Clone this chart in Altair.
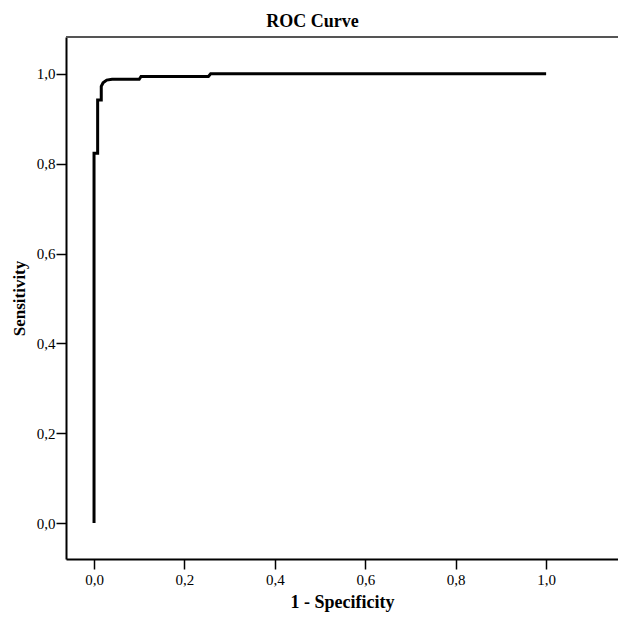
import altair as alt
import pandas as pd

fpr = [0.0, 0.0, 0.008, 0.008, 0.016, 0.016, 0.020, 0.028, 0.040, 0.100, 0.104, 0.253, 0.258, 1.0]
tpr = [0.0, 0.823, 0.823, 0.942, 0.942, 0.972, 0.980, 0.986, 0.988, 0.988, 0.994, 0.994, 1.0, 1.0]
ticks = [0.0, 0.2, 0.4, 0.6, 0.8, 1.0]

df = pd.DataFrame({"fpr": fpr, "tpr": tpr, "order": list(range(len(fpr)))})

W, H = 552, 522
FONT = "Liberation Serif"
lab = "replace(format(datum.value, '.1f'), '.', ',')"

x = alt.X("fpr:Q", scale=alt.Scale(domain=[-0.062, 1.159], nice=False, zero=False),
          axis=alt.Axis(values=ticks, labelExpr=lab, title="1 - Specificity", grid=False,
                        titleFontWeight="bold", titleFontSize=18, titlePadding=6,
                        labelPadding=3, tickSize=10))
y = alt.Y("tpr:Q", scale=alt.Scale(domain=[-0.080, 1.082], nice=False, zero=False),
          axis=alt.Axis(values=ticks, labelExpr=lab, title="Sensitivity", grid=False,
                        titleFontWeight="bold", titleFontSize=17, titlePadding=8,
                        labelPadding=1, tickSize=10))

line = alt.Chart(df).mark_line(color="black", strokeWidth=3, interpolate="linear").encode(
    x=x, y=y, order="order:Q")

top = alt.Chart(df).mark_rule(color="#555555", strokeWidth=2).encode(
    x=alt.value(0), x2=alt.value(W), y=alt.value(0))

chart = alt.layer(line, top).properties(
    width=W, height=H,
    title=alt.TitleParams("ROC Curve", font=FONT, fontSize=18, fontWeight="bold",
                          anchor="start", dx=256, offset=5),
    autosize=alt.AutoSizeParams(type="none"),
    padding={"left": 58, "top": 29, "right": 0, "bottom": 58},
).configure_view(stroke=None).configure_axis(
    labelFont=FONT, titleFont=FONT, labelFontSize=15, labelColor="black",
    titleColor="black", domainColor="black", domainWidth=2, tickColor="black", tickWidth=1.5
)

chart.save("out.html", embed_options={"renderer": "svg", "actions": False})
